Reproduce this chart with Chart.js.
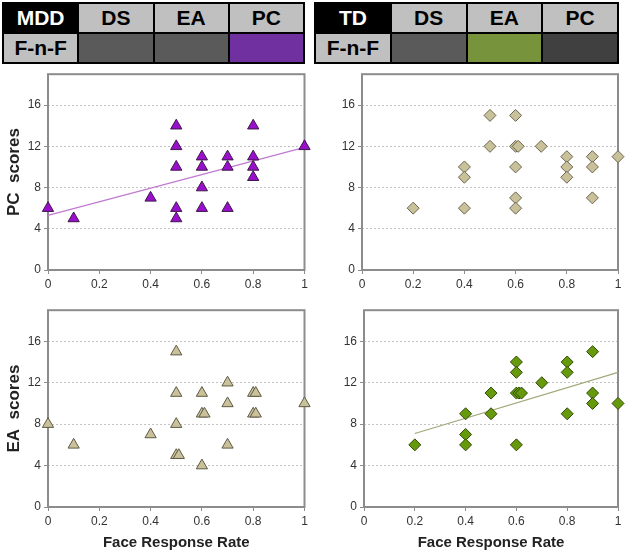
<!DOCTYPE html>
<html>
<head>
<meta charset="utf-8">
<script src="https://cdn.jsdelivr.net/npm/chart.js@4"></script>
<style>
body{margin:0;width:625px;height:554px;background:#fff;position:relative;overflow:hidden;font-family:"Liberation Sans",Arial,sans-serif;}
.tbl{position:absolute;display:grid;grid-template-columns:repeat(4,1fr);grid-template-rows:1fr 1fr;gap:2px;padding:2px;background:#000;box-sizing:border-box;}
.tbl div{display:flex;align-items:center;justify-content:center;font-weight:bold;font-size:21px;background:#c0c0c0;color:#000;}
.tbl div.grp{background:#000;color:#fff;}
.box{position:absolute;}
</style>
</head>
<body>
<div class="tbl" id="tblMdd" style="left:2px;top:2px;width:303px;height:62px"></div>
<div class="tbl" id="tblTd" style="left:314px;top:2px;width:305px;height:62px"></div>

<div class="box" style="left:0;top:64px"><canvas id="mddPc" width="312" height="224"></canvas></div>
<div class="box" style="left:312px;top:64px"><canvas id="tdPc" width="313" height="224"></canvas></div>
<div class="box" style="left:0;top:300px"><canvas id="mddEa" width="312" height="254"></canvas></div>
<div class="box" style="left:312px;top:300px"><canvas id="tdEa" width="313" height="254"></canvas></div>

<script>
// header tables
const measures = ["DS", "EA", "PC"];
const rowLabel = "F-n-F";
const mddCells = ["#5a5a5a", "#5a5a5a", "#7030a0"];
const tdCells = ["#5a5a5a", "#77933c", "#404040"];

// x = face response rate, y = score
const xTicks = [0, 0.2, 0.4, 0.6, 0.8, 1];
const yTicks = [0, 4, 8, 12, 16];

const mddPcX = [0, 0.1, 0.4, 0.5, 0.5, 0.5, 0.5, 0.5, 0.6, 0.6, 0.6, 0.6, 0.7, 0.7, 0.7, 0.8, 0.8, 0.8, 0.8, 1];
const mddPcY = [6, 5, 7, 14, 12, 10, 6, 5, 11, 10, 8, 6, 11, 10, 6, 14, 11, 10, 9, 12];
const mddPcTrendX = [0, 1];
const mddPcTrendY = [5.3, 11.9];

const tdPcX = [0.2, 0.4, 0.4, 0.4, 0.5, 0.5, 0.6, 0.6, 0.61, 0.6, 0.6, 0.6, 0.7, 0.8, 0.8, 0.8, 0.9, 0.9, 0.9, 1];
const tdPcY = [6, 10, 9, 6, 15, 12, 15, 12, 12, 10, 7, 6, 12, 11, 10, 9, 11, 10, 7, 11];

const mddEaX = [0, 0.1, 0.4, 0.5, 0.5, 0.5, 0.5, 0.51, 0.6, 0.6, 0.61, 0.6, 0.7, 0.7, 0.7, 0.8, 0.81, 0.8, 0.81, 1];
const mddEaY = [8, 6, 7, 15, 11, 8, 5, 5, 11, 9, 9, 4, 12, 10, 6, 11, 11, 9, 9, 10];

const tdEaX = [0.2, 0.4, 0.4, 0.4, 0.5, 0.5, 0.6, 0.6, 0.6, 0.61, 0.62, 0.6, 0.7, 0.8, 0.8, 0.8, 0.9, 0.9, 0.9, 1];
const tdEaY = [6, 9, 7, 6, 11, 9, 14, 13, 11, 11, 11, 6, 12, 14, 13, 9, 15, 11, 10, 10];
const tdEaTrendX = [0.2, 1];
const tdEaTrendY = [7.1, 13.0];

function fillTable(id, group, colors) {
  const t = document.getElementById(id);
  let html = '<div class="grp">' + group + '</div>';
  measures.forEach(m => html += '<div>' + m + '</div>');
  html += '<div>' + rowLabel + '</div>';
  colors.forEach(c => html += '<div style="background:' + c + '"></div>');
  t.innerHTML = html;
}
fillTable("tblMdd", "MDD", mddCells);
fillTable("tblTd", "TD", tdCells);

Chart.defaults.font.family = "'Liberation Sans', Arial, sans-serif";
Chart.defaults.animation = false;

const frame = {
  id: "frame",
  beforeDatasetsDraw(chart) {
    const a = chart.chartArea, c = chart.ctx;
    c.save();
    c.strokeStyle = "#8c8c8c";
    c.lineWidth = 2;
    c.strokeRect(a.left, a.top, a.right - a.left, a.bottom - a.top);
    c.restore();
  }
};

function pairs(xs, ys) {
  return xs.map((x, i) => ({ x: x, y: ys[i] }));
}

function panel(id, o) {
  const datasets = [{
    type: "scatter",
    data: pairs(o.xs, o.ys),
    pointStyle: o.shape,
    pointRadius: o.radius,
    backgroundColor: o.fill,
    borderColor: o.edge,
    borderWidth: 1,
    clip: false,
    order: 1
  }];
  if (o.trendX) {
    datasets.push({
      type: "line",
      data: pairs(o.trendX, o.trendY),
      borderColor: o.trendColor,
      borderWidth: 1.2,
      pointRadius: 0,
      fill: false,
      clip: false,
      order: 2
    });
  }
  new Chart(document.getElementById(id), {
    type: "scatter",
    data: { datasets: datasets },
    plugins: [frame],
    options: {
      responsive: false,
      layout: { padding: { top: 8, right: o.right, left: 0, bottom: 0 } },
      plugins: { legend: { display: false }, tooltip: { enabled: false } },
      scales: {
        x: {
          type: "linear",
          min: 0,
          max: 1,
          afterBuildTicks: s => { s.ticks = xTicks.map(v => ({ value: v })); },
          afterFit: s => { s.height = o.xh; },
          ticks: { callback: v => String(v), color: "#333", font: { size: 12 }, padding: 3, maxRotation: 0 },
          grid: { drawOnChartArea: false, drawTicks: true, tickLength: 4, tickColor: "#8c8c8c" },
          border: { display: false },
          title: {
            display: !!o.xTitle,
            text: o.xTitle || "",
            color: "#222",
            font: { size: 15, weight: "bold" },
            padding: { top: 0, bottom: 2 }
          }
        },
        y: {
          type: "linear",
          min: 0,
          max: 19,
          afterBuildTicks: s => { s.ticks = yTicks.map(v => ({ value: v })); },
          afterFit: s => { s.width = o.yw; },
          ticks: { callback: v => String(v), color: "#333", font: { size: 12 }, padding: 3 },
          grid: { color: "#c4c4c4", lineWidth: 1, drawTicks: true, tickLength: 4, tickColor: "#8c8c8c" },
          border: { display: false, dash: [2, 2] },
          title: {
            display: !!o.yTitle,
            text: o.yTitle || "",
            color: "#222",
            font: { size: 17, weight: "bold" },
            padding: { top: 4, bottom: 4 }
          }
        }
      }
    }
  });
}

panel("mddPc", {
  xs: mddPcX, ys: mddPcY, shape: "triangle", radius: 6.5,
  fill: "#9a0fcc", edge: "#3c1848",
  trendX: mddPcTrendX, trendY: mddPcTrendY, trendColor: "#c07ad0",
  yw: 48, xh: 18, right: 5, yTitle: "PC  scores"
});
panel("tdPc", {
  xs: tdPcX, ys: tdPcY, shape: "rectRot", radius: 6,
  fill: "#c9c19a", edge: "#6b6550",
  yw: 50, xh: 18, right: 7
});
panel("mddEa", {
  xs: mddEaX, ys: mddEaY, shape: "triangle", radius: 6.5,
  fill: "#c9c19a", edge: "#5f5a46",
  yw: 48, xh: 47, right: 5, yTitle: "EA  scores", xTitle: "Face Response Rate"
});
panel("tdEa", {
  xs: tdEaX, ys: tdEaY, shape: "rectRot", radius: 6,
  fill: "#669a0c", edge: "#2f4a06",
  trendX: tdEaTrendX, trendY: tdEaTrendY, trendColor: "#a3a77a",
  yw: 52, xh: 47, right: 7, xTitle: "Face Response Rate"
});
</script>
</body>
</html>
